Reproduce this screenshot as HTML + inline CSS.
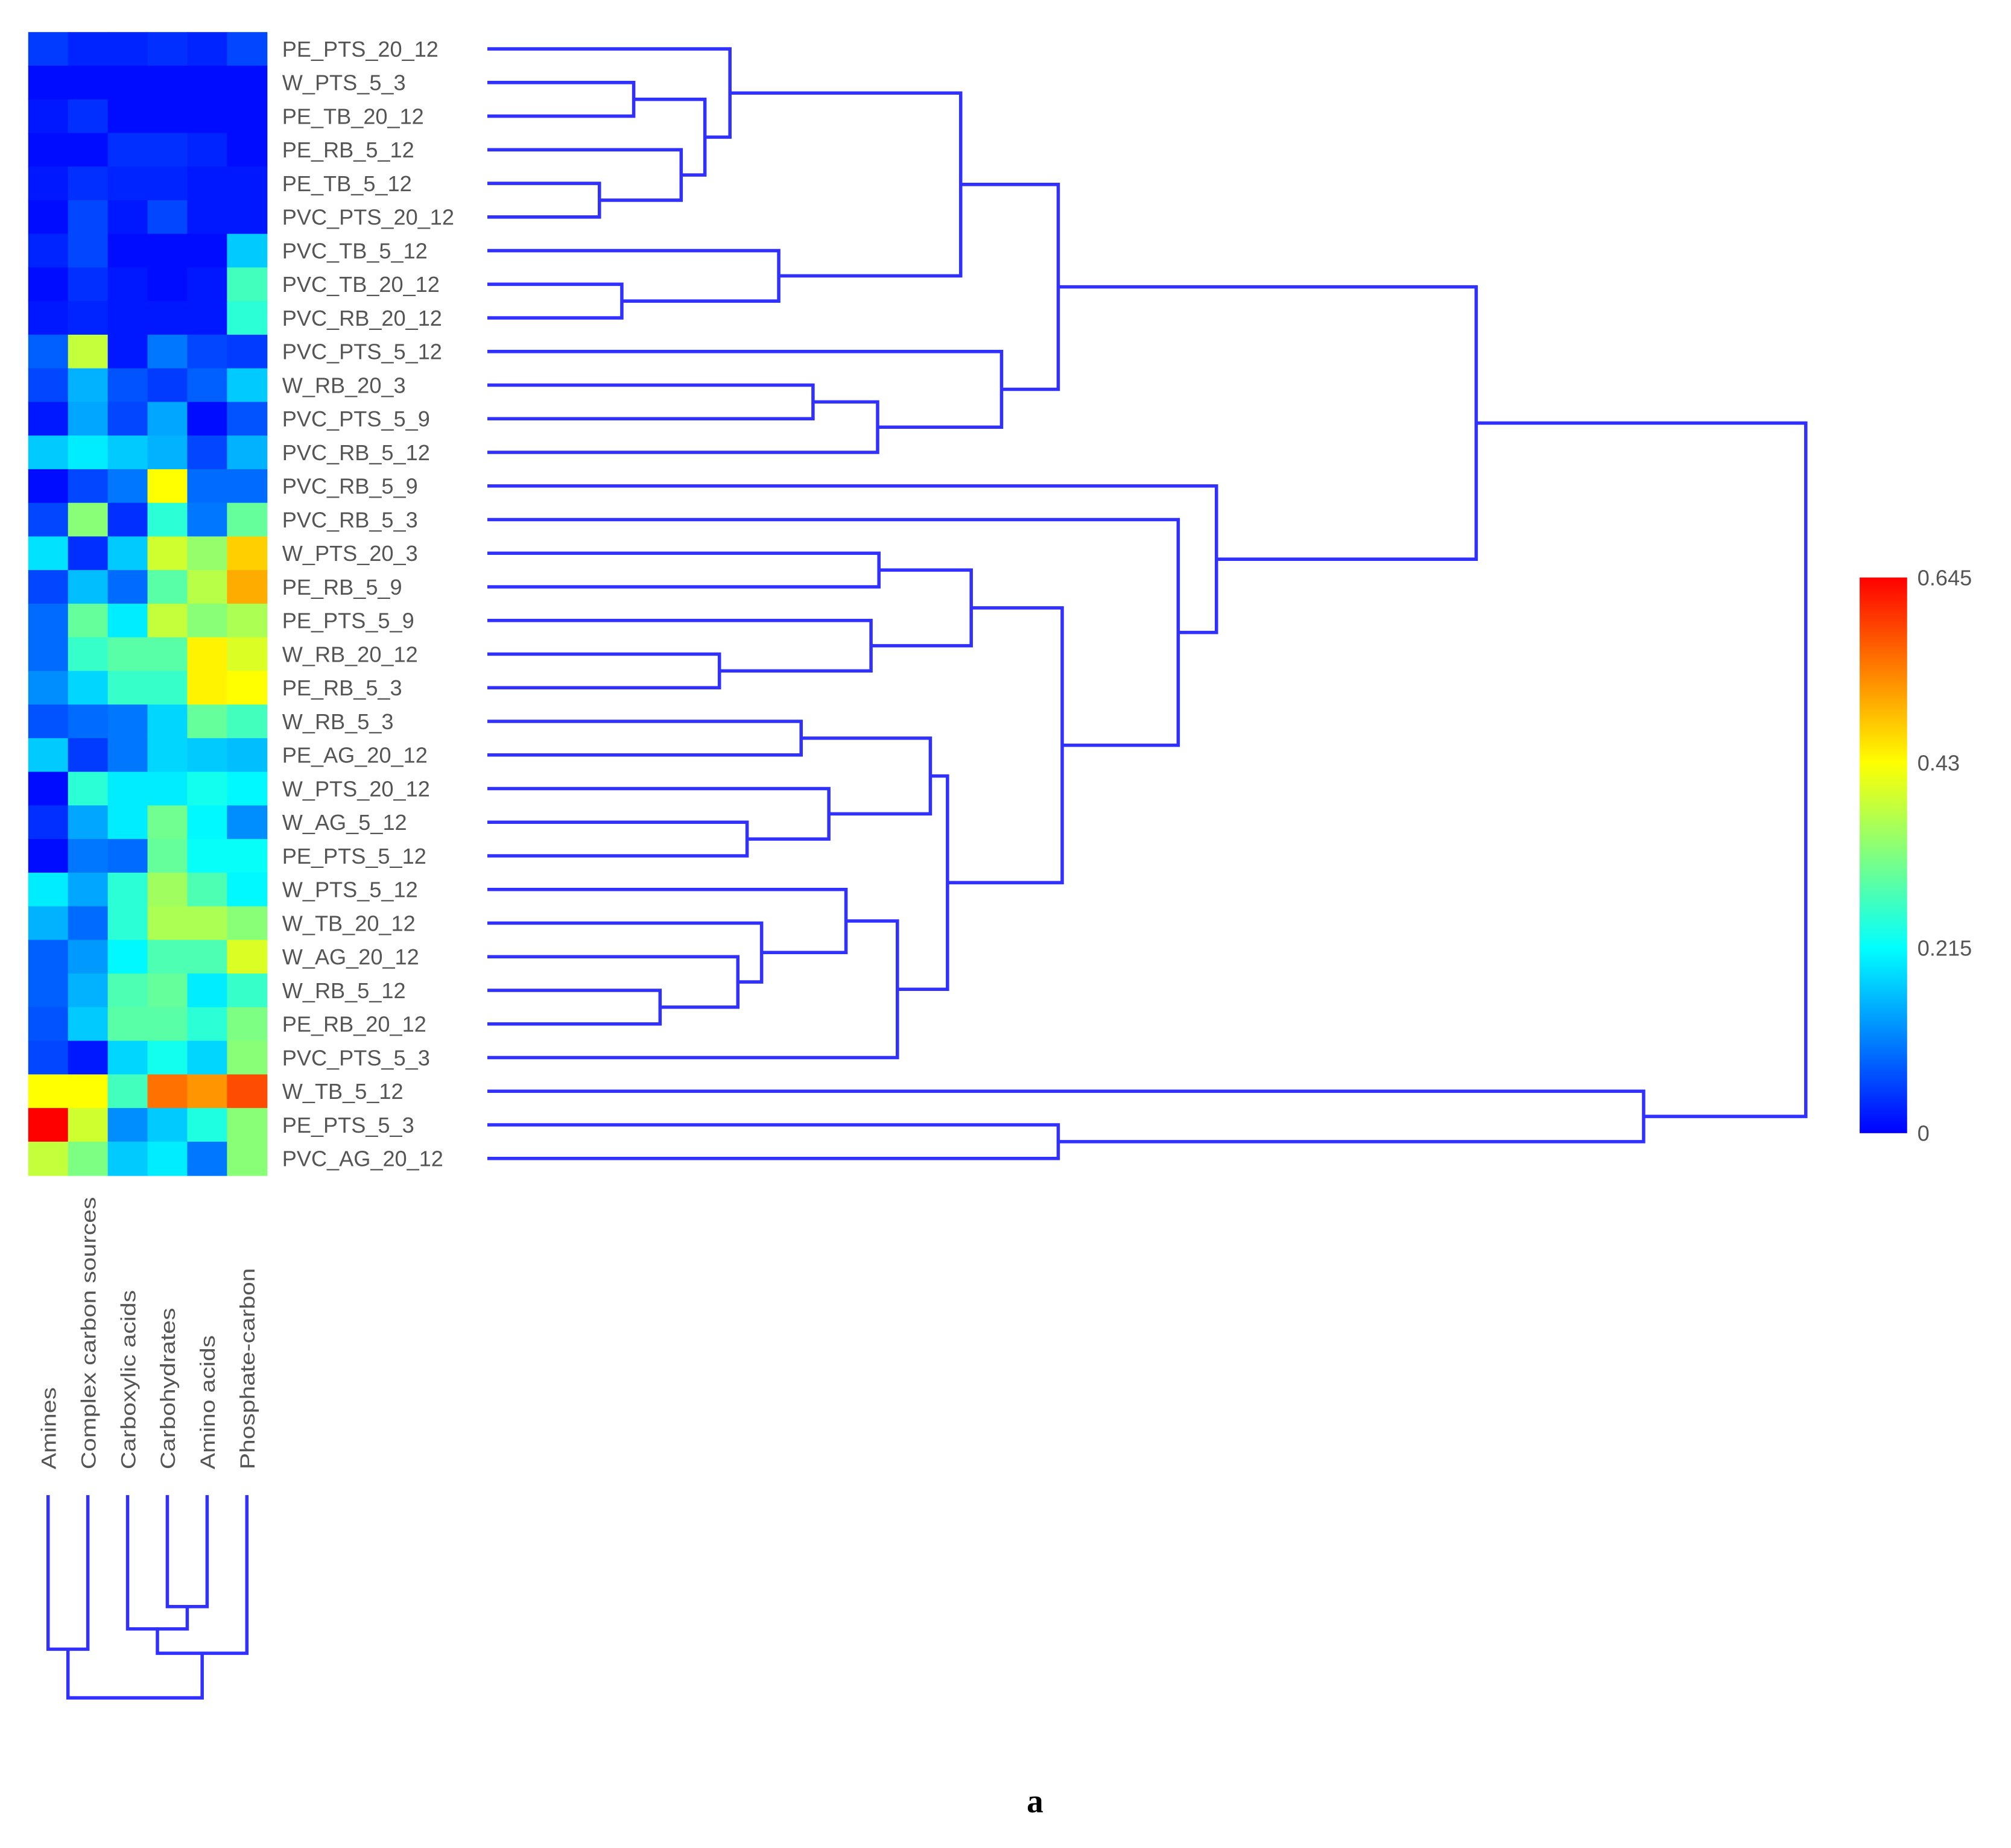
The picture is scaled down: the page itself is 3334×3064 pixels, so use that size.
<!DOCTYPE html>
<html><head><meta charset="utf-8"><style>
html,body{margin:0;padding:0;background:#fff;}
svg{display:block;}
text{font-family:"Liberation Sans",sans-serif;}
</style></head><body>
<svg id="chart" xmlns="http://www.w3.org/2000/svg" width="3334" height="3064" viewBox="0 0 1568 1440" preserveAspectRatio="none">
<defs><linearGradient id="jet" x1="0" y1="1" x2="0" y2="0">
<stop offset="0" stop-color="#0000ff"/><stop offset="0.333" stop-color="#00ffff"/><stop offset="0.5" stop-color="#80ff80"/><stop offset="0.667" stop-color="#ffff00"/><stop offset="0.833" stop-color="#ff8000"/><stop offset="1" stop-color="#ff0000"/></linearGradient></defs>
<g id="heat"></g>
<g id="rowlabels"></g>
<g id="rowdend"></g>
<g id="collabels"></g>
<g id="coldend"></g>
<g>
<rect x="1450" y="450" width="37" height="433" fill="url(#jet)"/>
<g id="cbticks"></g>
</g>
<text x="807" y="1412" text-anchor="middle" font-size="26" font-weight="bold" style="font-family:'Liberation Serif',serif">a</text>
</svg>
<script>
const rowNames=["PE_PTS_20_12","W_PTS_5_3","PE_TB_20_12","PE_RB_5_12","PE_TB_5_12","PVC_PTS_20_12","PVC_TB_5_12","PVC_TB_20_12","PVC_RB_20_12","PVC_PTS_5_12","W_RB_20_3","PVC_PTS_5_9","PVC_RB_5_12","PVC_RB_5_9","PVC_RB_5_3","W_PTS_20_3","PE_RB_5_9","PE_PTS_5_9","W_RB_20_12","PE_RB_5_3","W_RB_5_3","PE_AG_20_12","W_PTS_20_12","W_AG_5_12","PE_PTS_5_12","W_PTS_5_12","W_TB_20_12","W_AG_20_12","W_RB_5_12","PE_RB_20_12","PVC_PTS_5_3","W_TB_5_12","PE_PTS_5_3","PVC_AG_20_12"];
const colNames=["Amines","Complex carbon sources","Carboxylic acids","Carbohydrates","Amino acids","Phosphate-carbon"];
const values=[
[0.05,0.03,0.03,0.04,0.03,0.06],[0.01,0.01,0.01,0.01,0.01,0.01],[0.02,0.04,0.01,0.01,0.01,0.01],[0.01,0.01,0.04,0.04,0.03,0.01],
[0.02,0.04,0.03,0.03,0.02,0.02],[0.01,0.06,0.02,0.06,0.02,0.02],[0.03,0.06,0.01,0.01,0.01,0.17],[0.01,0.04,0.02,0.01,0.02,0.27],
[0.02,0.03,0.02,0.02,0.02,0.25],[0.08,0.38,0.02,0.10,0.06,0.05],[0.06,0.15,0.07,0.05,0.08,0.17],[0.02,0.14,0.06,0.14,0.01,0.07],
[0.17,0.20,0.17,0.15,0.06,0.15],[0.01,0.06,0.10,0.43,0.09,0.09],[0.06,0.33,0.04,0.25,0.10,0.30],[0.19,0.04,0.17,0.39,0.34,0.47],
[0.06,0.16,0.09,0.29,0.37,0.50],[0.09,0.30,0.20,0.38,0.33,0.36],[0.09,0.26,0.29,0.29,0.44,0.40],[0.12,0.18,0.26,0.26,0.44,0.43],
[0.07,0.09,0.10,0.18,0.30,0.27],[0.17,0.05,0.10,0.18,0.17,0.16],[0.01,0.25,0.20,0.20,0.23,0.21],[0.04,0.14,0.20,0.31,0.21,0.12],
[0.01,0.10,0.09,0.30,0.22,0.22],[0.20,0.14,0.25,0.35,0.28,0.21],[0.15,0.09,0.25,0.36,0.36,0.33],[0.08,0.13,0.21,0.28,0.28,0.40],
[0.08,0.15,0.28,0.30,0.20,0.26],[0.07,0.17,0.29,0.29,0.25,0.32],[0.06,0.02,0.18,0.23,0.18,0.33],[0.43,0.43,0.27,0.55,0.52,0.58],
[0.645,0.39,0.12,0.17,0.24,0.33],[0.38,0.32,0.17,0.20,0.10,0.33]];
const rowMerges=[
[1,2,0.111],[4,5,0.085],[3,35,0.147],[34,36,0.165],[0,37,0.184],
[7,8,0.102],[6,39,0.221],[38,40,0.359],[10,11,0.247],[42,12,0.296],
[9,43,0.390],[41,44,0.433],[18,19,0.176],[17,46,0.291],[15,16,0.297],
[48,47,0.367],[20,21,0.238],[23,24,0.197],[22,51,0.259],[50,52,0.336],
[28,29,0.131],[27,54,0.190],[26,55,0.208],[25,56,0.272],[57,30,0.311],
[53,58,0.349],[49,59,0.436],[14,60,0.524],[13,61,0.553],[45,62,0.750],
[32,33,0.433],[31,64,0.877],[63,65,1.0]];
const colMerges=[[0,1,0.76],[3,4,0.55],[2,7,0.66],[8,5,0.78],[6,9,1.0]];
const cbTicks=[0,0.215,0.43,0.645];
const vmax=0.645;

const NS="http://www.w3.org/2000/svg";
function mk(tag,attrs,parent){const e=document.createElementNS(NS,tag);for(const k in attrs)e.setAttribute(k,attrs[k]);parent.appendChild(e);return e;}
const hx0=22,hw=31,hy0=25,rh=26.2;
const rowY=i=>hy0+rh*(i+0.5);
const colX=j=>hx0+hw*(j+0.5);
const rowDX=d=>380+d*1028;
const colDY=d=>1165+d*158;
const cmap=[[0,[0,0,255]],[0.333,[0,255,255]],[0.5,[128,255,128]],[0.667,[255,255,0]],[0.833,[255,128,0]],[1,[255,0,0]]];
function jet(v){const t=Math.max(0,Math.min(1,v/vmax));
 for(let k=1;k<cmap.length;k++){if(t<=cmap[k][0]){const [t0,c0]=cmap[k-1],[t1,c1]=cmap[k];const f=(t-t0)/(t1-t0);
  return `rgb(${c0.map((c,i)=>Math.round(c+(c1[i]-c)*f)).join(',')})`;}}
 return 'rgb(255,0,0)';}
const heat=document.getElementById('heat');
values.forEach((row,i)=>row.forEach((v,j)=>{
 const r=mk('rect',{x:hx0+hw*j,y:hy0+rh*i,width:hw+0.5,height:rh+0.5,fill:jet(v)},heat);
 
 
}));
const rl=document.getElementById('rowlabels');
rowNames.forEach((n,i)=>{const t=mk('text',{x:220,y:rowY(i)+6,'font-size':17,fill:'#555'},rl);t.textContent=n;
 
 });
const cl=document.getElementById('collabels');
colNames.forEach((n,j)=>{const t=mk('text',{x:0,y:0,'font-size':16,fill:'#555',transform:`translate(${colX(j)+6},1145) rotate(-90) scale(1.2,1)`},cl);t.textContent=n;
 
 });
const LC='#3030ff';
const rd=document.getElementById('rowdend');
const rpos=rowNames.map((_,i)=>({y:rowY(i),x:rowDX(0)}));
rowMerges.forEach(([a,b,h])=>{const A=rpos[a],B=rpos[b],x=rowDX(h);
 const p=mk('path',{d:`M${A.x},${A.y}H${x}V${B.y}H${B.x}`,fill:'none',stroke:LC,'stroke-width':2.6},rd);
 
 
 rpos.push({y:(A.y+B.y)/2,x:x});});
const cd=document.getElementById('coldend');
const cpos=colNames.map((_,j)=>({x:colX(j),y:colDY(0)}));
colMerges.forEach(([a,b,h])=>{const A=cpos[a],B=cpos[b],y=colDY(h);
 const p=mk('path',{d:`M${A.x},${A.y}V${y}H${B.x}V${B.y}`,fill:'none',stroke:LC,'stroke-width':2.6},cd);
 
 
 cpos.push({x:(A.x+B.x)/2,y:y});});
const cb=document.getElementById('cbticks');
cbTicks.forEach(v=>{const y=883-v/vmax*433;const t=mk('text',{x:1495,y:y+6,'font-size':17,fill:'#555'},cb);t.textContent=String(v);
 
 });
</script>
</body></html>
